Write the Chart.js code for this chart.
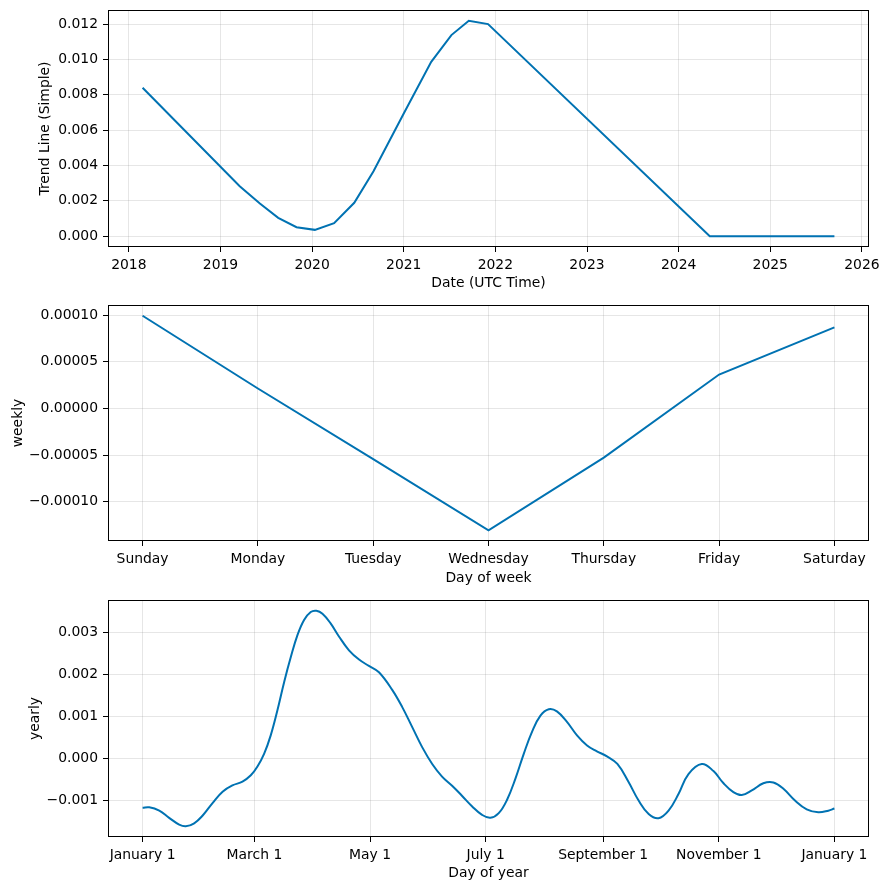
<!DOCTYPE html>
<html>
<head>
<meta charset="utf-8">
<script src="https://cdn.jsdelivr.net/npm/chart.js@4.4.0/dist/chart.umd.min.js"></script>
<style>
  body { margin: 0; background: #fff; }
  #fig { position: relative; width: 889px; height: 890px; background: #fff; }
  canvas { position: absolute; left: 0; }
</style>
</head>
<body>
<div id="fig">
  <canvas id="trend" width="889" height="295" style="top:0px"></canvas>
  <canvas id="weekly" width="889" height="295" style="top:295px"></canvas>
  <canvas id="yearly" width="889" height="300" style="top:590px"></canvas>
</div>
<script>
// datos
const trendYears = [2018.15, 2019.21, 2019.43, 2019.63, 2019.83, 2020.03, 2020.24, 2020.46, 2020.67, 2021.0, 2021.30, 2021.52, 2021.71, 2021.92, 2024.34, 2025.70];
const trendValues = [0.0084, 0.00283, 0.00185, 0.00104, 0.00051, 0.00036, 0.00074, 0.00189, 0.00368, 0.00694, 0.00987, 0.01138, 0.01219, 0.0120, 0.0, 0.0];
const trendTicks = [0, 0.002, 0.004, 0.006, 0.008, 0.010, 0.012];
const yearTicks = [2018, 2019, 2020, 2021, 2022, 2023, 2024, 2025, 2026];

const weekDays = ['Sunday', 'Monday', 'Tuesday', 'Wednesday', 'Thursday', 'Friday', 'Saturday'];
const weeklyValues = [0.0000995, 0.0000214, -0.0000545, -0.0001308, -0.0000528, 0.0000364, 0.0000870];
const weeklyTicks = [-0.0001, -0.00005, 0, 0.00005, 0.0001];

const yearlyDays = [0, 3.5, 8.8, 14, 19.3, 22.8, 27.2, 31.6, 36.9, 42.2, 47.4, 52.7, 57.1, 60.6, 64.1, 67.6, 71.1, 74.7, 78.2, 81.7, 85.2, 88.7, 91.7, 94.9, 99.2, 103.6, 108.9, 114.2, 119.4, 124.7, 131.7, 137, 142.2, 147.5, 152.8, 158, 163.3, 168.6, 173.9, 179.1, 183.5, 187.9, 192.3, 196.7, 201.1, 205.5, 209.9, 214.3, 218.6, 223.9, 229.2, 234.5, 239.7, 245, 250.5, 256.4, 261.7, 267, 272.2, 277.5, 282.8, 288, 295, 301.2, 306.5, 311.7, 316.1, 321.4, 327.5, 332.8, 338.1, 344.2, 350.4, 356.5, 361.8, 365];
const yearlyValues = [-0.00117, -0.00116, -0.00124, -0.00141, -0.00157, -0.00161, -0.00154, -0.00136, -0.00106, -0.00079, -0.00064, -0.00055, -0.00040, -0.00019, 0.00011, 0.00055, 0.00114, 0.00182, 0.00241, 0.00293, 0.00329, 0.00348, 0.00351, 0.00344, 0.00321, 0.00290, 0.00257, 0.00235, 0.00220, 0.00205, 0.00163, 0.00122, 0.00075, 0.00027, -0.00013, -0.00043, -0.00065, -0.00089, -0.00114, -0.00134, -0.00141, -0.00130, -0.00098, -0.00048, 0.00011, 0.00064, 0.00102, 0.00117, 0.00112, 0.00087, 0.00055, 0.00031, 0.00017, 0.00005, -0.00013, -0.00056, -0.00100, -0.00132, -0.00142, -0.00124, -0.00084, -0.00037, -0.00013, -0.00030, -0.00059, -0.00080, -0.00087, -0.00076, -0.00059, -0.00057, -0.00072, -0.00100, -0.00121, -0.00128, -0.00124, -0.00119];
const yearlyTicks = [-0.001, 0, 0.001, 0.002, 0.003];
const monthDays = [0, 59, 120, 181, 243, 304, 365];
const monthLabels = ['January 1', 'March 1', 'May 1', 'July 1', 'September 1', 'November 1', 'January 1'];

Chart.defaults.font.family = 'DejaVu Sans';
Chart.defaults.font.size = 13.9;
Chart.defaults.color = '#000';

// marco negro alrededor del area (como matplotlib)
const marco = {
  id: 'marco',
  afterDraw(chart) {
    const a = chart.chartArea;
    const ctx = chart.ctx;
    ctx.save();
    ctx.strokeStyle = '#000';
    ctx.lineWidth = 1;
    ctx.strokeRect(Math.round(a.left) + 0.5, Math.round(a.top) + 0.5, Math.round(a.right - a.left) - 1, Math.round(a.bottom - a.top) - 1);
    ctx.restore();
  }
};

// 5% de margen como hace matplotlib
const rango = (arr) => {
  const lo = Math.min(...arr), hi = Math.max(...arr);
  const m = (hi - lo) * 0.05;
  return [lo - m, hi + m];
};

const conMenos = (v, dec) => (v < 0 ? '\u2212' : '') + Math.abs(v).toFixed(dec);

const grafica = (id, xs, ys, cfg) => {
  const [xmin, xmax] = rango(xs);
  const [ymin, ymax] = rango(ys);
  const grid = { color: 'rgba(128,128,128,0.2)', lineWidth: 1, tickColor: '#000', tickLength: 5, tickWidth: 1 };
  new Chart(document.getElementById(id), {
    type: 'line',
    data: {
      datasets: [{
        data: xs.map((x, i) => ({ x: x, y: ys[i] })),
        borderColor: '#0072B2',
        borderWidth: 2,
        pointRadius: 0,
        fill: false,
        tension: cfg.suave ? 0.4 : 0
      }]
    },
    options: {
      responsive: false,
      animation: false,
      events: [],
      layout: { padding: { left: 0, right: 20, top: 10, bottom: 0 } },
      plugins: { legend: { display: false }, tooltip: { enabled: false } },
      scales: {
        x: {
          type: 'linear',
          min: xmin,
          max: xmax,
          grid: grid,
          border: { display: false },
          afterBuildTicks: (s) => { s.ticks = cfg.xTicks.map(v => ({ value: v })); },
          afterFit: (s) => { s.height = cfg.xAltura; s.paddingLeft = 0; s.paddingRight = 0; s.paddingTop = 0; s.paddingBottom = 0; },
          ticks: { padding: 5, maxRotation: 0, autoSkip: false, callback: cfg.xLabel },
          title: { display: true, text: cfg.xTitulo, padding: { top: 0, bottom: cfg.xTitPad } }
        },
        y: {
          type: 'linear',
          min: ymin,
          max: ymax,
          grid: grid,
          border: { display: false },
          afterBuildTicks: (s) => { s.ticks = cfg.yTicks.map(v => ({ value: v })); },
          afterFit: (s) => { s.width = 108; s.paddingLeft = 0; s.paddingRight = 0; s.paddingTop = 0; s.paddingBottom = 0; },
          ticks: { padding: 5, autoSkip: false, callback: cfg.yLabel },
          title: { display: true, text: cfg.yTitulo, padding: { top: cfg.yTitPad, bottom: 0 } }
        }
      }
    },
    plugins: [marco]
  });
};

grafica('trend', trendYears, trendValues, {
  xTicks: yearTicks,
  yTicks: trendTicks,
  xLabel: (v) => String(v),
  yLabel: (v) => conMenos(v, 3),
  xTitulo: 'Date (UTC Time)',
  yTitulo: 'Trend Line (Simple)',
  xAltura: 48, xTitPad: 3, yTitPad: 37
});

grafica('weekly', weekDays.map((d, i) => i), weeklyValues, {
  xTicks: weekDays.map((d, i) => i),
  yTicks: weeklyTicks,
  xLabel: (v, i) => weekDays[i],
  yLabel: (v) => conMenos(v, 5),
  xTitulo: 'Day of week',
  yTitulo: 'weekly',
  xAltura: 49, xTitPad: 3, yTitPad: 10
});

grafica('yearly', yearlyDays, yearlyValues, {
  suave: true,
  xTicks: monthDays,
  yTicks: yearlyTicks,
  xLabel: (v, i) => monthLabels[i],
  yLabel: (v) => conMenos(v, 3),
  xTitulo: 'Day of year',
  yTitulo: 'yearly',
  xAltura: 53, xTitPad: 8, yTitPad: 27
});
</script>
</body>
</html>
